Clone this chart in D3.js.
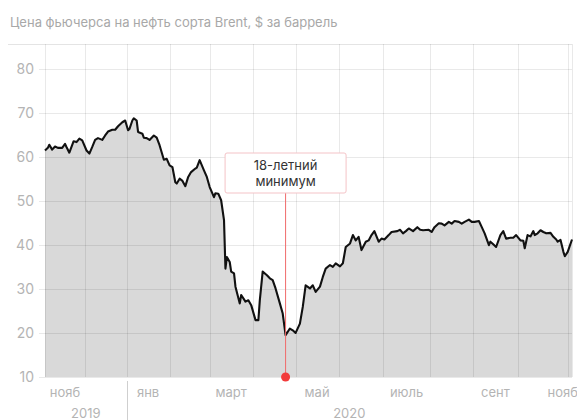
<!DOCTYPE html>
<html><head><meta charset="utf-8">
<script src="https://cdn.jsdelivr.net/npm/d3@7"></script>
<style>html,body{margin:0;padding:0;background:#fff;overflow:hidden}</style>
</head><body><svg id="c" width="577" height="420"></svg>
<script>
const title = "Цена фьючерса на нефть сорта Brent, $ за баррель";
const dates = [
"2019-11-01","2019-11-03","2019-11-04","2019-11-06","2019-11-08","2019-11-10","2019-11-13","2019-11-15","2019-11-16","2019-11-18",
"2019-11-21","2019-11-23","2019-11-25","2019-11-27","2019-11-30","2019-12-02","2019-12-04","2019-12-06","2019-12-08","2019-12-11",
"2019-12-13","2019-12-15","2019-12-18","2019-12-20","2019-12-22","2019-12-25","2019-12-27","2019-12-29","2019-12-30","2020-01-01",
"2020-01-02","2020-01-04","2020-01-05","2020-01-08","2020-01-09","2020-01-11","2020-01-13","2020-01-16","2020-01-18","2020-01-20",
"2020-01-23","2020-01-25","2020-01-27","2020-01-29","2020-01-31","2020-02-01","2020-02-03","2020-02-05","2020-02-07","2020-02-09",
"2020-02-11","2020-02-14","2020-02-15","2020-02-17","2020-02-20","2020-02-22","2020-02-24","2020-02-27","2020-02-28","2020-03-01",
"2020-03-03","2020-03-05","2020-03-06","2020-03-07","2020-03-09","2020-03-10","2020-03-12","2020-03-13","2020-03-16","2020-03-17",
"2020-03-20","2020-03-22","2020-03-24","2020-03-27","2020-03-29","2020-03-30","2020-04-01","2020-04-04","2020-04-06","2020-04-08",
"2020-04-10","2020-04-13","2020-04-15","2020-04-17","2020-04-20","2020-04-22","2020-04-24","2020-04-27","2020-04-29","2020-05-01",
"2020-05-04","2020-05-06","2020-05-08","2020-05-11","2020-05-13","2020-05-15","2020-05-18","2020-05-20","2020-05-22","2020-05-25",
"2020-05-27","2020-05-29","2020-06-01","2020-06-03","2020-06-05","2020-06-07","2020-06-09","2020-06-12","2020-06-14","2020-06-16",
"2020-06-18","2020-06-21","2020-06-23","2020-06-25","2020-06-28","2020-06-30","2020-07-04","2020-07-06","2020-07-08","2020-07-10",
"2020-07-12","2020-07-15","2020-07-18","2020-07-20","2020-07-22","2020-07-26","2020-07-28","2020-07-30","2020-08-02","2020-08-04",
"2020-08-06","2020-08-09","2020-08-11","2020-08-13","2020-08-16","2020-08-18","2020-08-20","2020-08-23","2020-08-25","2020-08-27",
"2020-08-30","2020-09-01","2020-09-03","2020-09-06","2020-09-07","2020-09-09","2020-09-11","2020-09-14","2020-09-16","2020-09-18",
"2020-09-21","2020-09-23","2020-09-25","2020-09-28","2020-09-30","2020-10-01","2020-10-03","2020-10-05","2020-10-07","2020-10-08",
"2020-10-10","2020-10-12","2020-10-14","2020-10-16","2020-10-19","2020-10-21","2020-10-23","2020-10-24","2020-10-26","2020-10-28",
"2020-10-29","2020-10-31","2020-11-03"];
const prices = [
61.4,62.0,62.7,61.6,62.3,62.0,62.0,62.9,62.2,60.9,
63.5,63.3,64.1,63.7,61.4,60.7,62.2,63.8,64.2,63.8,
64.8,65.7,66.1,66.1,66.9,67.8,68.2,66.0,66.3,68.2,
68.7,68.2,65.6,65.2,64.3,64.2,63.8,64.8,64.3,62.6,
59.3,59.5,58.0,57.6,54.2,53.9,55.0,54.5,53.3,55.4,
56.5,57.3,57.5,59.2,56.9,55.4,53.1,50.8,51.7,51.6,
50.1,45.6,34.6,37.2,36.1,33.9,33.5,30.5,26.7,28.6,
27.1,27.4,26.3,22.9,22.9,27.4,33.9,33.1,32.4,32.0,
30.1,26.7,24.4,19.5,21.0,20.6,20.0,22.1,25.9,30.8,
30.1,30.8,29.3,30.5,32.7,34.6,35.4,35.0,35.8,35.1,
35.8,39.5,40.3,42.2,41.0,41.8,38.8,40.7,41.0,42.2,
43.1,40.7,41.4,41.2,42.2,42.9,43.1,43.4,42.6,43.1,
43.7,43.1,44.0,43.4,43.3,43.4,42.9,44.0,44.9,44.8,
44.4,45.2,44.8,45.4,45.2,44.8,45.2,45.7,45.2,45.2,
45.4,44.0,42.6,39.9,40.7,40.1,39.5,42.2,43.1,41.4,
41.6,41.6,42.2,41.0,40.9,39.2,42.2,41.9,43.1,42.2,
42.6,43.3,42.9,42.6,42.7,41.8,41.2,40.7,41.1,38.4,
37.4,38.4,41.2];
const yTicks = [10,20,30,40,50,60,70,80];
const monthTicks = ["2019-11-01","2019-11-29","2019-12-28","2020-01-27","2020-02-24","2020-03-25",
  "2020-04-24","2020-05-24","2020-06-24","2020-07-27","2020-08-26","2020-09-26","2020-10-31"];
const monthLabels = ["нояб","","янв","","март","","май","","июль","","сент","","нояб"];
const yearLabels = ["2019","2020"];
const yearStartTick = [0,2];
const annotationLines = ["18-летний","минимум"];

const parse = d3.utcParse("%Y-%m-%d");
const data = dates.map((d,i)=>({date:parse(d), value:prices[i]}));
const W = 577, H = 420;
const m = {top:44, left:45, right:5, bottom:43};
const svg = d3.select("#c");
const font = "Inter, 'Noto Sans', sans-serif";

const x = d3.scaleUtc().domain(d3.extent(data, d=>d.date)).range([m.left, W - m.right]);
const y = d3.scaleLinear().domain([10,80]).range([H - m.bottom, 68.5]);
const x1 = W - m.right, yB = y(10);

svg.append("text").attr("x",10).attr("y",27).attr("font-family",font).attr("font-size",13)
  .attr("fill","#a8a8a8").text(title);

// area
svg.append("path").datum(data).attr("fill","#d9d9d9")
  .attr("d", d3.area().x(d=>x(d.date)).y0(yB).y1(d=>y(d.value)));

// grid
const grid = svg.append("g").attr("stroke","rgba(0,0,0,0.085)").attr("stroke-width",1);
grid.append("line").attr("x1",8).attr("x2",x1).attr("y1",m.top+0.5).attr("y2",m.top+0.5).attr("stroke","#e4e4e4");
grid.selectAll(".h").data(yTicks).join("line")
  .attr("x1",39).attr("x2",x1).attr("y1",d=>Math.round(y(d))+0.5).attr("y2",d=>Math.round(y(d))+0.5);
const tickX = monthTicks.map(t=>x(parse(t)));
grid.selectAll(".v").data(tickX.concat([x1])).join("line")
  .attr("x1",d=>Math.round(d)+0.5).attr("x2",d=>Math.round(d)+0.5).attr("y1",m.top).attr("y2",yB);

// y labels
svg.append("g").selectAll("text").data(yTicks).join("text")
  .attr("x",34).attr("y",d=>y(d)).attr("dy","0.36em").attr("text-anchor","end")
  .attr("font-family",font).attr("font-size",14).attr("fill","#b4b4b4").text(d=>d);

// line
svg.append("path").datum(data).attr("fill","none").attr("stroke","#111").attr("stroke-width",2.1)
  .attr("stroke-linejoin","round")
  .attr("d", d3.line().x(d=>x(d.date)).y(d=>y(d.value)));

// month labels
const avgStep = (tickX[tickX.length-1]-tickX[0])/(tickX.length-1);
const ml = svg.append("g");
monthLabels.forEach((lab,i)=>{
  if(!lab) return;
  const a = tickX[i], b = i+1 < tickX.length ? tickX[i+1] : tickX[i] + avgStep;
  const t = ml.append("text").attr("x",(a+b)/2).attr("y",397).attr("text-anchor","middle")
    .attr("font-family",font).attr("font-size",13).attr("fill","#b4b4b4").text(lab);
  const w = t.node().getComputedTextLength();
  if ((a+b)/2 + w/2 > W + 1) t.attr("x", W + 1 - w/2);
});
// years
yearLabels.forEach((lab,i)=>{
  const a = tickX[yearStartTick[i]];
  const b = i+1 < yearLabels.length ? tickX[yearStartTick[i+1]] : x1;
  svg.append("text").attr("x",(a+b)/2).attr("y",418).attr("text-anchor","middle")
    .attr("font-family",font).attr("font-size",13).attr("fill","#b4b4b4").text(lab);
  if (i>0) svg.append("line").attr("x1",Math.round(a)+0.5).attr("x2",Math.round(a)+0.5)
    .attr("y1",381).attr("y2",H).attr("stroke","#cfcfcf");
});

// annotation at minimum
const minD = data[d3.minIndex(data, d=>d.value)];
const mx = x(minD.date);
const boxW = 121, boxH = 40, boxTop = 153;
svg.append("line").attr("x1",mx).attr("x2",mx).attr("y1",boxTop+boxH).attr("y2",yB)
  .attr("stroke","#f06b6b").attr("stroke-width",1);
svg.append("rect").attr("x",mx-boxW/2).attr("y",boxTop).attr("width",boxW).attr("height",boxH)
  .attr("rx",2).attr("fill","#fff").attr("stroke","#f4c3c7");
annotationLines.forEach((t,i)=>{
  svg.append("text").attr("x",mx).attr("y",boxTop+17+i*16).attr("text-anchor","middle")
    .attr("font-family",font).attr("font-size",13).attr("fill","#333").text(t);
});
svg.append("circle").attr("cx",mx).attr("cy",yB).attr("r",4.5).attr("fill","#f23b3b");
</script></body></html>
